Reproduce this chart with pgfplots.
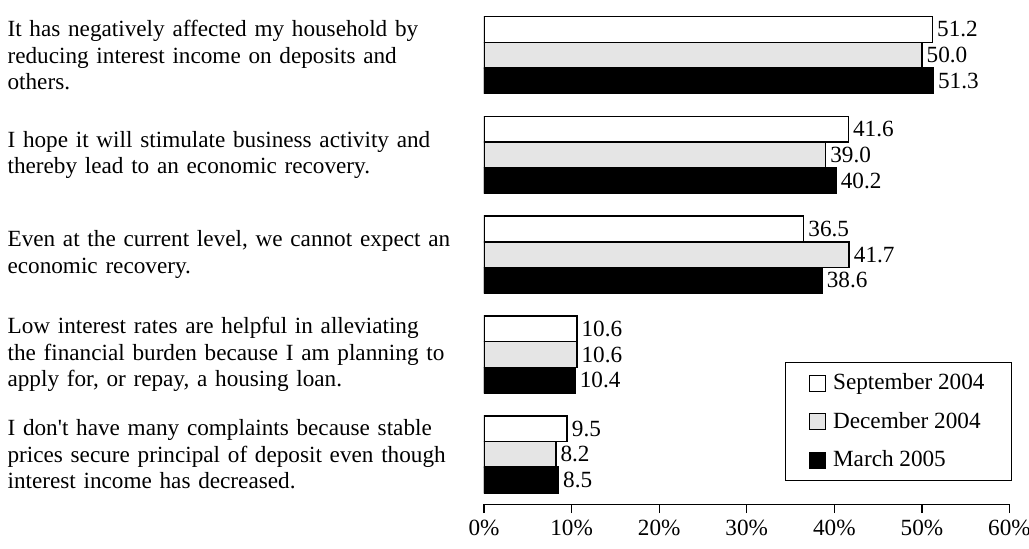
\documentclass[border=0pt]{standalone}
\usepackage{fontspec}
\setmainfont{Liberation Serif}
\usepackage{pgfplots}
\usepackage{pgfplotstable}
\pgfplotsset{compat=1.18}
\pgfplotstableread{
y sep dec mar
4 51.2 50.0 51.3
3 41.6 39.0 40.2
2 36.5 41.7 38.6
1 10.6 10.6 10.4
0 9.5 8.2 8.5
}\datatable
\newcommand{\lblfont}{\fontsize{11.6}{13.25}\selectfont}
\begin{document}
\begin{tikzpicture}
\useasboundingbox (0,0) rectangle (514.5pt,274.5pt);
\begin{axis}[
  at={(242pt,22.4pt)}, anchor=south west, scale only axis,
  width=262.75pt, height=249.5pt,
  xbar, bar width=12.83pt,
  xmin=0, xmax=60, ymin=-0.5, ymax=4.5,
  axis x line*=bottom, axis y line*=left,
  y axis line style={draw=none},
  x axis line style={line width=0.6pt},
  xtick={0,10,20,30,40,50,60},
  xticklabels={0\%,10\%,20\%,30\%,40\%,50\%,60\%},
  xtick style={line width=0.6pt, black},
  tick align=outside, major tick length=4.5pt,
  ytick={0,1,2,3,4},
  ytick style={draw=none},
  yticklabels={
    {I don\textquotesingle t have many complaints because stable\\prices secure principal of deposit even though\\interest income has decreased.},
    {Low interest rates are helpful in alleviating\\the financial burden because I am planning to\\apply for, or repay, a housing loan.},
    {Even at the current level, we cannot expect an\\economic recovery.},
    {I hope it will stimulate business activity and\\thereby lead to an economic recovery.},
    {It has negatively affected my household by\\reducing interest income on deposits and\\others.}
  },
  yticklabel style={align=left, text width=238pt, inner sep=0pt, xshift=4.5pt, font=\lblfont},
  xticklabel style={font=\lblfont},
  point meta=explicit symbolic,
  nodes near coords,
  every node near coord/.append style={anchor=west, inner sep=0pt, xshift=2pt, font=\lblfont, black},
  legend cell align=left,
  legend image code/.code={\path (0pt,0pt) (9.5pt,0pt); \draw[#1, line width=0.6pt] (0pt,-4pt) rectangle (8pt,4pt);},
  legend style={at={(1.005,0.285)}, anchor=north east, draw=black, line width=0.6pt,
    font=\lblfont, row sep=5.75pt, inner xsep=11.5pt, inner ysep=3.5pt},
]
\addplot[draw=black, fill=white, line width=0.75pt, bar shift=12.83pt] table[x=sep, y=y, meta=sep] {\datatable};
\addplot[draw=black, fill=black!10, line width=0.75pt, bar shift=0pt] table[x=dec, y=y, meta=dec] {\datatable};
\addplot[draw=black, fill=black, line width=0.75pt, bar shift=-12.83pt] table[x=mar, y=y, meta=mar] {\datatable};
\legend{September 2004, December 2004, March 2005}
\end{axis}
\end{tikzpicture}
\end{document}
